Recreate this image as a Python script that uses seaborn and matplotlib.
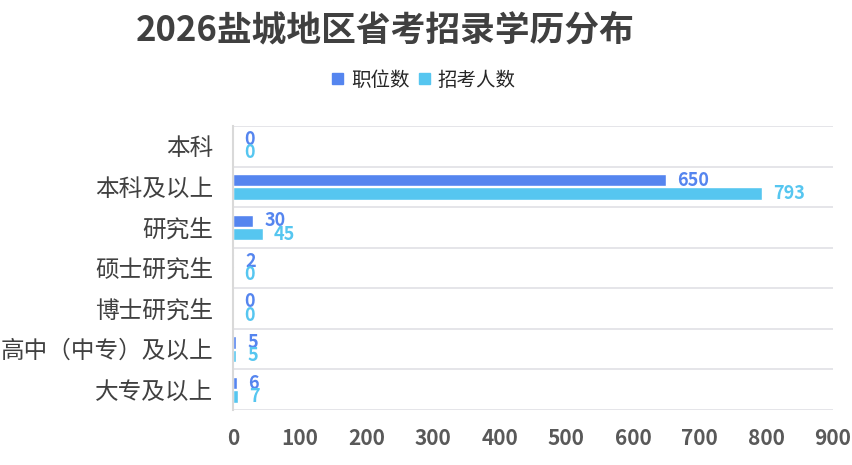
import matplotlib
matplotlib.use("Agg")
import matplotlib.pyplot as plt
import pandas as pd
import seaborn as sns

categories = ["本科", "本科及以上", "研究生", "硕士研究生", "博士研究生", "高中（中专）及以上", "大专及以上"]
positions = [0, 650, 30, 2, 0, 5, 6]
applicants = [0, 793, 45, 0, 0, 5, 7]
series_names = ["职位数", "招考人数"]
x_ticks = [0, 100, 200, 300, 400, 500, 600, 700, 800, 900]

colors = ["#5585EF", "#56C6F0"]

sns.set_theme(style="white")
plt.rcParams["font.family"] = ["Noto Sans CJK SC", "DejaVu Sans"]

df = pd.DataFrame({
    "学历": categories * 2,
    "数量": positions + applicants,
    "系列": [series_names[0]] * len(categories) + [series_names[1]] * len(categories),
})

fig = plt.figure(figsize=(8.53, 4.65), dpi=100)
ax = fig.add_axes([233 / 853, 1 - 410 / 465, 600 / 853, (410 - 126) / 465])

sns.barplot(
    data=df, x="数量", y="学历", hue="系列", orient="h",
    palette=colors, saturation=1, width=0.66, gap=0.08, ax=ax, legend=False,
)

ax.set_xlim(0, 900)
ax.set_ylim(len(categories) - 0.5, -0.5)
ax.set_xticks(x_ticks)
ax.set_xticklabels([str(t) for t in x_ticks], fontsize=15, fontweight="bold", color="#595959")
ax.tick_params(axis="x", length=0, pad=13)
ax.tick_params(axis="y", length=0, pad=14, labelsize=17, labelcolor="#404040")
ax.set_xlabel("")
ax.set_ylabel("")

# horizontal separators between categories
for b in range(len(categories) + 1):
    ax.axhline(b - 0.5, color="#E0E0E5", lw=1.2, zorder=0)
for side in ["top", "right", "bottom"]:
    ax.spines[side].set_visible(False)
ax.spines["left"].set_color("#D9D9D9")
ax.spines["left"].set_linewidth(1.5)

# value labels
for cont, col in zip(ax.containers, colors):
    for rect in cont:
        w = rect.get_width()
        yc = rect.get_y() + rect.get_height() / 2
        ax.annotate(f"{int(w)}", (w, yc), xytext=(8, 0), textcoords="offset points",
                    ha="left", va="center", fontsize=13, fontweight="bold", color=col)

fig.text(385 / 853, 1 - 30 / 465, "2026盐城地区省考招录学历分布", ha="center", va="center",
         fontsize=25, fontweight="bold", color="#404040")

handles = [plt.Rectangle((0, 0), 1, 1, color=c) for c in colors]
fig.legend(handles, series_names, loc="center", bbox_to_anchor=(424 / 853, 1 - 80 / 465),
           ncol=2, frameon=False, fontsize=14, handlelength=0.55, handleheight=0.55,
           handletextpad=0.4, columnspacing=0.5)

fig.savefig("out.png", dpi=100)
